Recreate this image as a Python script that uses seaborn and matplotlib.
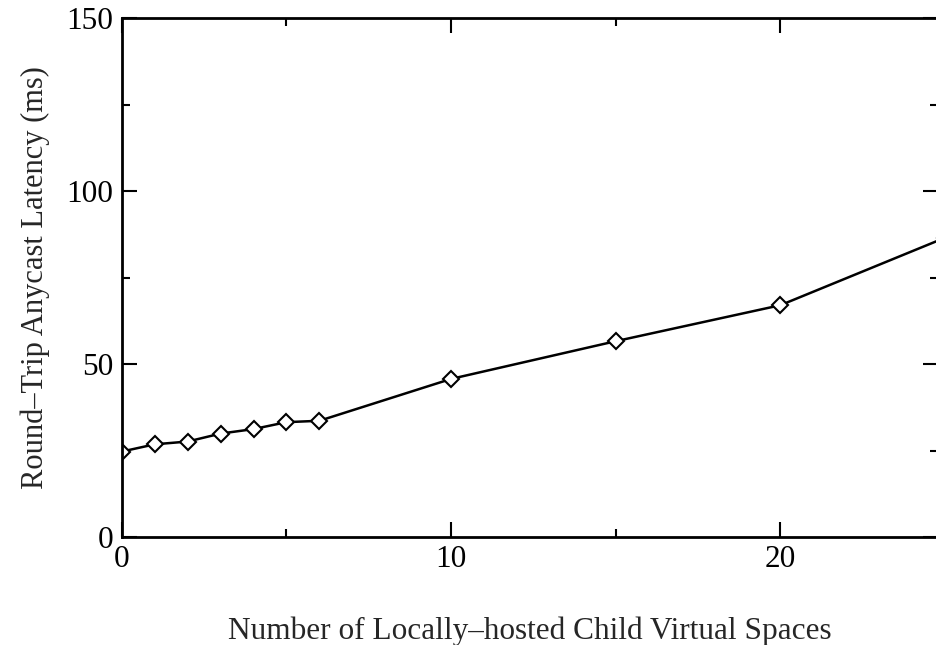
import numpy as np
import pandas as pd
import matplotlib.pyplot as plt
from matplotlib.ticker import MultipleLocator
import seaborn as sns

sns.set_style("ticks")
plt.rcParams["font.family"] = ["Liberation Serif", "DejaVu Serif"]

# values
n_children = [0, 1, 2, 3, 4, 5, 6, 10, 15, 20, 25]
latency_ms = [24.7, 26.8, 27.6, 29.9, 31.2, 33.2, 33.6, 45.7, 56.6, 67.0, 86.5]

df = pd.DataFrame({"children": n_children, "latency": latency_ms})

fig = plt.figure(figsize=(9.37, 6.45), dpi=100)
ax = fig.add_axes([0.130, 0.1674, 0.8715, 0.8046])

sns.lineplot(data=df, x="children", y="latency", ax=ax, color="black",
             linewidth=1.8, marker="D", markersize=8, markerfacecolor="white",
             markeredgecolor="black", markeredgewidth=1.5)

ax.set_xlim(0, 24.8)
ax.set_ylim(0, 150)
ax.xaxis.set_major_locator(MultipleLocator(10))
ax.xaxis.set_minor_locator(MultipleLocator(5))
ax.yaxis.set_major_locator(MultipleLocator(50))
ax.yaxis.set_minor_locator(MultipleLocator(25))
ax.tick_params(which="both", direction="in", top=True, right=True,
               labelsize=22.5, width=1.5, colors="black")
ax.tick_params(which="major", length=11, pad=6)
ax.tick_params(which="minor", length=6)
for s in ax.spines.values():
    s.set_linewidth(2)
    s.set_color("black")

ax.set_xlabel("Number of Locally\u2013hosted Child Virtual Spaces", fontsize=22.5,
              labelpad=30)
ax.set_ylabel("Round\u2013Trip Anycast Latency (ms)", fontsize=22, labelpad=12)

fig.savefig("out.png", dpi=100)
